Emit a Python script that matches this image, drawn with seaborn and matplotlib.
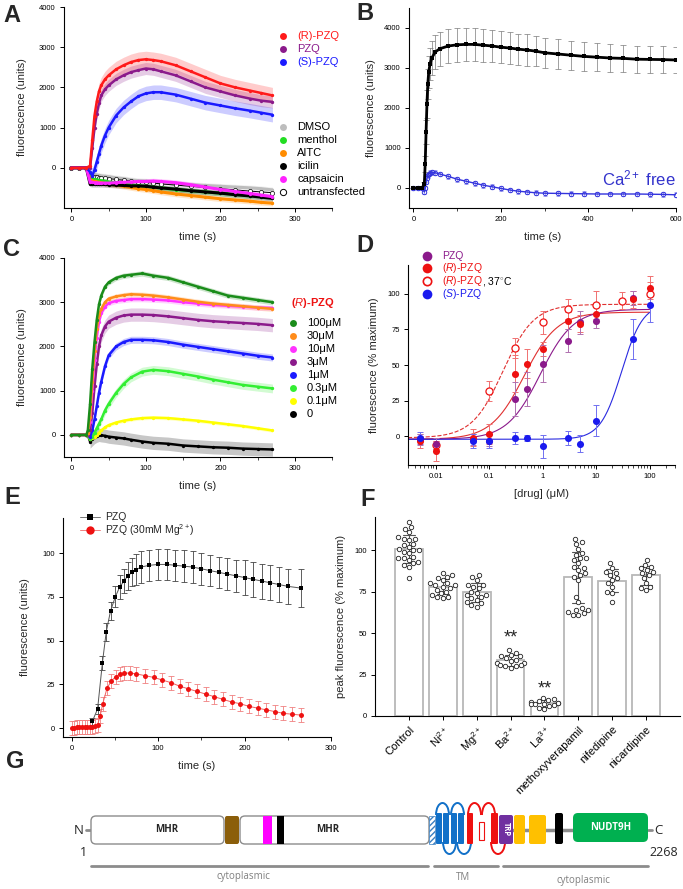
import numpy as np
import pandas as pd
import matplotlib
matplotlib.use("Agg")
import matplotlib.pyplot as plt
import seaborn as sns
from matplotlib.ticker import AutoMinorLocator, LogLocator, NullFormatter
from matplotlib.patches import FancyBboxPatch, Rectangle, Arc

sns.set_style("ticks")
plt.rcParams['font.family'] = ['Liberation Sans', 'DejaVu Sans']
plt.rcParams['mathtext.fontset'] = 'custom'
plt.rcParams['mathtext.rm'] = 'Liberation Sans'
plt.rcParams['mathtext.it'] = 'Liberation Sans:italic'
plt.rcParams['mathtext.bf'] = 'Liberation Sans:bold'

# ---------------- DATA ----------------
# Panel A (time courses, fluorescence units)
a_time = [0, 10, 20, 25, 28, 31, 34, 37, 40, 45, 50, 60, 70, 80, 90, 100, 110, 120, 140, 160, 180, 200, 220, 240, 255, 270]
a_R = [0, 0, 0, 50, 700, 1300, 1650, 1900, 2050, 2200, 2300, 2450, 2550, 2630, 2680, 2700, 2680, 2650, 2550, 2400, 2250, 2100, 2000, 1920, 1860, 1800]
a_PZQ = [0, 0, 0, 0, 500, 1000, 1350, 1600, 1800, 1950, 2050, 2200, 2300, 2380, 2430, 2470, 2450, 2400, 2300, 2150, 2000, 1900, 1800, 1720, 1670, 1640]
a_S = [0, 0, 0, -100, -200, -50, 150, 350, 550, 800, 1000, 1300, 1500, 1650, 1780, 1850, 1880, 1880, 1820, 1720, 1620, 1550, 1480, 1420, 1370, 1320]
a_DMSO = [0, 0, 0, -150, -160, -170, -180, -190, -200, -210, -220, -250, -270, -300, -320, -330, -350, -370, -400, -420, -440, -460, -480, -500, -520, -550]
a_menthol = [0, 0, 0, -250, -270, -290, -300, -310, -320, -330, -350, -380, -400, -430, -450, -460, -480, -500, -540, -570, -600, -630, -660, -690, -710, -730]
a_AITC = [0, 0, 0, -300, -320, -340, -350, -360, -370, -390, -400, -430, -460, -490, -520, -540, -570, -600, -650, -690, -730, -770, -800, -830, -860, -880]
a_icilin = [0, 0, 0, -400, -410, -410, -410, -410, -410, -415, -420, -430, -440, -450, -450, -460, -480, -500, -530, -570, -600, -630, -670, -700, -730, -760]
a_capsaicin = [0, 0, 0, -350, -360, -370, -370, -380, -380, -380, -380, -370, -360, -350, -340, -340, -330, -340, -370, -420, -480, -540, -590, -640, -680, -720]
a_untransfected = [0, 0, 0, -200, -220, -230, -240, -250, -250, -260, -270, -290, -310, -330, -350, -360, -380, -400, -430, -460, -490, -520, -550, -580, -600, -620]
a_err_R, a_err_PZQ, a_err_S, a_err_neg = 200, 150, 180, 70

# Panel B
b_time = [0, 10, 20, 25, 27, 29, 31, 33, 35, 38, 42, 50, 60, 80, 100, 120, 140, 160, 180, 200, 220, 240, 260, 280, 300, 330, 360, 390, 420, 450, 480, 510, 540, 570, 600]
b_ctrl = [0, 0, 0, 100, 600, 1400, 2100, 2600, 2900, 3100, 3250, 3400, 3480, 3550, 3580, 3590, 3590, 3570, 3550, 3520, 3500, 3470, 3450, 3420, 3380, 3350, 3320, 3290, 3270, 3250, 3240, 3220, 3215, 3210, 3200]
b_ctrl_err = [0, 0, 0, 50, 200, 300, 350, 380, 400, 400, 420, 420, 420, 420, 420, 420, 420, 410, 400, 400, 400, 390, 390, 380, 380, 370, 360, 360, 350, 350, 340, 340, 330, 330, 330]
b_cafree = [0, 0, 0, -100, 0, 150, 250, 320, 350, 380, 390, 380, 350, 290, 220, 170, 120, 70, 30, -10, -50, -80, -100, -120, -130, -135, -140, -145, -150, -150, -150, -150, -155, -160, -170]
b_cafree_err = 60

# Panel C
c_time = [0, 10, 20, 22, 25, 28, 31, 34, 37, 40, 45, 50, 60, 70, 80, 95, 110, 130, 150, 170, 190, 210, 230, 250, 270]
c_100 = [0, 0, 0, 100, 700, 1500, 2100, 2600, 2950, 3150, 3350, 3450, 3550, 3600, 3620, 3650, 3600, 3550, 3450, 3350, 3250, 3150, 3100, 3050, 3000]
c_30 = [0, 0, 0, 50, 400, 1200, 1900, 2400, 2700, 2850, 3000, 3080, 3130, 3160, 3180, 3170, 3150, 3110, 3060, 3010, 2970, 2940, 2910, 2880, 2850]
c_10 = [0, 0, 0, 50, 300, 1000, 1700, 2200, 2550, 2750, 2900, 2980, 3030, 3050, 3070, 3070, 3060, 3040, 3000, 2970, 2940, 2920, 2900, 2880, 2870]
c_3 = [0, 0, 0, 0, 100, 500, 1100, 1600, 2000, 2250, 2450, 2560, 2650, 2700, 2720, 2720, 2710, 2680, 2640, 2600, 2570, 2550, 2530, 2510, 2480]
c_1 = [0, 0, 0, 0, -50, 100, 350, 650, 950, 1200, 1550, 1800, 2000, 2100, 2150, 2150, 2140, 2100, 2040, 1990, 1940, 1890, 1840, 1790, 1750]
c_03 = [0, 0, 0, 0, -100, -50, 50, 150, 250, 350, 550, 700, 950, 1150, 1300, 1430, 1470, 1440, 1380, 1320, 1250, 1190, 1130, 1090, 1050]
c_01 = [0, 0, 0, 0, -100, -80, -50, 0, 50, 100, 170, 220, 280, 320, 350, 380, 390, 380, 350, 320, 280, 240, 200, 150, 100]
c_0 = [0, 0, 0, 0, -150, -100, -50, -20, 0, -10, -20, -40, -60, -80, -110, -150, -180, -200, -240, -260, -280, -290, -310, -320, -330]
c_labels = ["100\u03bcM", "30\u03bcM", "10\u03bcM", "3\u03bcM", "1\u03bcM", "0.3\u03bcM", "0.1\u03bcM", "0"]
c_errs = [60, 60, 60, 150, 80, 100, 40, 150]

# Panel D (concentration-response, % maximum)
d_pzq_x = [0.005, 0.01, 0.05, 0.1, 0.3, 0.5, 1, 3, 5, 10, 50]
d_pzq_y = [-2, -5, -2, -3, 26, 33, 51, 67, 80, 81, 97]
d_pzq_e = [4, 4, 4, 4, 12, 12, 13, 8, 8, 5, 5]
d_r_x = [0.005, 0.01, 0.05, 0.1, 0.3, 0.5, 1, 3, 5, 10, 50, 100]
d_r_y = [-3, -10, -1, 2, 44, 51, 61, 81, 79, 86, 96, 104]
d_r_e = [5, 7, 6, 7, 13, 10, 5, 6, 6, 5, 6, 8]
d_r37_x = [0.01, 0.1, 0.3, 1, 3, 10, 30, 100]
d_r37_y = [-6, 32, 62, 80, 89, 92, 95, 100]
d_r37_e = [3, 7, 7, 8, 7, 10, 6, 8]
d_s_x = [0.005, 0.05, 0.1, 0.3, 0.5, 1, 3, 5, 10, 50, 100]
d_s_y = [-1, -3, -3, -1, -1, -7, -1, -5, 11, 68, 92]
d_s_e = [4, 5, 5, 4, 2, 8, 5, 6, 11, 14, 12]
# Hill fit parameters: bottom, top, EC50, slope
d_fit_pzq = [-2, 89, 0.9, 1.4]
d_fit_r = [-2, 87, 0.45, 1.4]
d_fit_r37 = [-1, 92.5, 0.18, 1.5]
d_fit_s = [-2, 93, 30, 2.2]

# Panel E
e_t_pzq = [24, 30, 35.5, 40, 45, 50.5, 55.5, 60.5, 65, 70, 75, 80, 90, 100, 110, 120, 130, 140, 150, 160, 170, 180, 190, 200, 210, 220, 230, 240, 250, 265]
e_pzq = [4, 11, 37, 55, 67, 75, 80.5, 84, 87, 89, 90.5, 92, 93, 93.5, 93.5, 93, 92.5, 92, 91, 90, 89, 88, 87, 86, 85, 84, 83, 82, 81, 80]
e_pzq_err = [2, 3, 4, 5, 5, 6, 7, 7, 8, 8, 9, 9, 9, 9, 9, 9, 9, 9, 9, 9, 9, 9, 9, 10, 10, 10, 10, 10, 10, 11]
e_t_mg = [0, 3, 6, 9, 12, 15, 18, 21, 24, 27, 30, 33, 36, 41, 46, 51, 56, 61, 67, 75, 85, 95, 105, 115, 125, 135, 145, 155, 165, 175, 185, 195, 205, 215, 225, 235, 245, 255, 265]
e_mg = [0, 0, 0.5, 0.5, 0.5, 0.5, 0.5, 0.5, 0.5, 1, 2, 7, 14, 23, 27, 29.5, 31, 31.5, 31.5, 31, 30, 29, 27.5, 26, 24, 22.5, 21, 19.5, 18, 16.5, 15, 14, 12.5, 11.5, 10.5, 9.5, 8.5, 8, 7.5]
e_mg_err = 4

# Panel F (peak fluorescence, % maximum)
f_conditions = ["Control", "Ni$^{2+}$", "Mg$^{2+}$", "Ba$^{2+}$", "La$^{3+}$", "methoxyverapamil", "nifedipine", "nicardipine"]
f_control = [117, 113, 114, 111, 107, 108, 107, 106, 104, 103, 102, 101, 100, 100, 99, 98, 96, 95, 95, 94, 93, 92, 91, 90, 83]
f_ni = [86, 85, 84, 83, 82, 80, 80, 79, 79, 78, 77, 76, 75, 74, 73, 72, 71.5, 71]
f_mg = [85, 84, 82, 79, 79, 78, 77, 75, 74, 73, 73, 72, 71, 70, 69, 68, 67, 66]
f_ba = [40, 38, 37, 36, 36, 35, 34, 33, 32, 32, 31, 31, 30, 30, 29]
f_la = [11, 10, 9.5, 9, 8.5, 8, 8, 7.5, 7, 7, 6.5, 6, 5, 4]
f_methoxy = [107, 105, 104, 101, 98, 97, 95, 95, 94, 92, 90, 89, 88, 86, 85, 84, 82, 72, 69, 65, 64, 64, 63, 62, 61, 61]
f_nifedipine = [92, 89, 87, 86, 85, 83, 82, 80, 78, 75, 74, 69]
f_nicardipine = [94, 91, 90, 89, 88, 87, 86, 85, 83, 80, 78, 77, 76]
f_signif = {"Ba$^{2+}$": 47, "La$^{3+}$": 16}

# ---------------- FIGURE ----------------
W, H = 683, 889
fig = plt.figure(figsize=(W / 100, H / 100), dpi=100)


def add_ax(l, t, r, b):
    return fig.add_axes([l / W, 1 - b / H, (r - l) / W, (b - t) / H])


def style(ax, lab=5.5):
    sns.despine(ax=ax)
    ax.tick_params(direction='out', length=3, width=0.7, labelsize=lab, pad=3, colors='black')
    ax.tick_params(which='minor', length=2, width=0.6)
    for s in ['left', 'bottom']:
        ax.spines[s].set_linewidth(0.8)
        ax.spines[s].set_color('black')


LBL = 8


def trace(ax, t, y, color, err=None, lw=1.8, ms=2.4, alpha=0.22, z=3, band_from=22):
    sns.lineplot(x=t, y=y, ax=ax, color=color, lw=lw, marker='o', markersize=ms,
                 markeredgewidth=0, sort=False, estimator=None, zorder=z)
    if err is not None:
        tt = np.asarray(t, float)
        yy = np.asarray(y, float)
        m = tt >= band_from
        ax.fill_between(tt[m], (yy - err)[m], (yy + err)[m], color=color, alpha=alpha, lw=0, zorder=z - 1)


# ---- A
axA = add_ax(64, 7, 332, 208)
colA = dict(R='#ff1a1a', PZQ='#8b1a8b', S='#1a1aff', DMSO='#bdbdbd', menthol='#22dd22',
            AITC='#ff8c00', icilin='#000000', capsaicin='#ff22ff')
trace(axA, a_time, a_DMSO, colA['DMSO'], a_err_neg, lw=2.2)
sns.lineplot(x=a_time, y=a_untransfected, ax=axA, color='black', lw=0.7, marker='o', markersize=3,
             markerfacecolor='white', markeredgecolor='black', markeredgewidth=0.5, sort=False, zorder=3)
trace(axA, a_time, a_menthol, colA['menthol'], a_err_neg, lw=2.2)
trace(axA, a_time, a_AITC, colA['AITC'], a_err_neg, lw=2.2)
trace(axA, a_time, a_icilin, colA['icilin'], a_err_neg, lw=2.2)
trace(axA, a_time, a_capsaicin, colA['capsaicin'], a_err_neg, lw=2.2)
trace(axA, a_time, a_S, colA['S'], a_err_S)
trace(axA, a_time, a_PZQ, colA['PZQ'], a_err_PZQ)
trace(axA, a_time, a_R, colA['R'], a_err_R)
axA.set_xlim(-10, 350)
axA.set_ylim(-1000, 4000)
axA.set_xticks([0, 100, 200, 300])
axA.xaxis.set_minor_locator(AutoMinorLocator(2))
axA.set_yticks([0, 1000, 2000, 3000, 4000])
style(axA)
axA.set_xlabel('time (s)', fontsize=LBL, labelpad=6)
axA.set_ylabel('fluorescence (units)', fontsize=LBL, labelpad=9)

# ---- B
axB = add_ax(409, 8, 676, 208)
axB.errorbar(b_time, b_cafree, yerr=b_cafree_err, fmt='none', ecolor='#9999ee', elinewidth=0.6, capsize=1.5, capthick=0.6, zorder=2)
sns.lineplot(x=b_time, y=b_cafree, ax=axB, color='#3333dd', lw=1.0, marker='o', markersize=3.2,
             markerfacecolor='none', markeredgecolor='#3333dd', markeredgewidth=0.7, sort=False, zorder=3)
axB.errorbar(b_time, b_ctrl, yerr=b_ctrl_err, fmt='none', ecolor='#7a7a7a', elinewidth=0.5, capsize=2, capthick=0.5, zorder=2)
sns.lineplot(x=b_time, y=b_ctrl, ax=axB, color='black', lw=2.0, marker='s', markersize=2.2,
             markeredgewidth=0, sort=False, zorder=4)
axB.set_xlim(-10, 600)
axB.set_ylim(-500, 4500)
axB.set_xticks([0, 200, 400, 600])
axB.xaxis.set_minor_locator(AutoMinorLocator(2))
axB.set_yticks([0, 1000, 2000, 3000, 4000])
style(axB)
axB.set_xlabel('time (s)', fontsize=LBL, labelpad=6)
axB.set_ylabel('fluorescence (units)', fontsize=LBL, labelpad=6)
axB.text(600, 0, 'Ca$^{2+}$ free', color='#3333cc', fontsize=12, ha='right', va='bottom')

# ---- C
axC = add_ax(64, 258, 332, 457)
c_series = [c_100, c_30, c_10, c_3, c_1, c_03, c_01, c_0]
c_colors = ['#1a8c1a', '#ff8c1a', '#ff33ff', '#8b1a8b', '#1a1aff', '#33ee33', '#ffff00', '#000000']
for vals, col, er in zip(c_series[::-1], c_colors[::-1], c_errs[::-1]):
    trace(axC, c_time, vals, col, er, band_from=25)
axC.set_xlim(-10, 350)
axC.set_ylim(-500, 4000)
axC.set_xticks([0, 100, 200, 300])
axC.xaxis.set_minor_locator(AutoMinorLocator(2))
axC.set_yticks([0, 1000, 2000, 3000, 4000])
style(axC)
axC.set_xlabel('time (s)', fontsize=LBL, labelpad=6)
axC.set_ylabel('fluorescence (units)', fontsize=LBL, labelpad=9)

# ---- D
axD = add_ax(408, 265, 675, 465)
axD.set_xscale('log')


def hill(x, p):
    b, t, ec, n = p
    x = np.asarray(x, float)
    return b + (t - b) / (1 + (ec / x) ** n)


xfit = np.logspace(np.log10(0.003), 2, 300)
d_cols = dict(pzq='#8b1a8b', r='#ee1111', s='#1a1aee')
d_ecol = dict(pzq='#b070b0', r='#f07070', s='#7070f0')
sns.lineplot(x=xfit, y=hill(xfit, d_fit_r37), ax=axD, color='#e03030', lw=0.8, ls='--', zorder=2)
sns.lineplot(x=xfit, y=hill(xfit, d_fit_r), ax=axD, color='#e03030', lw=0.8, zorder=2)
sns.lineplot(x=xfit, y=hill(xfit, d_fit_pzq), ax=axD, color='#8b1a8b', lw=0.8, zorder=2)
sns.lineplot(x=xfit, y=hill(xfit, d_fit_s), ax=axD, color='#2a2ae0', lw=0.8, zorder=2)
for xs, ys, es, c in [(d_r37_x, d_r37_y, d_r37_e, d_ecol['r']), (d_r_x, d_r_y, d_r_e, d_ecol['r']),
                      (d_pzq_x, d_pzq_y, d_pzq_e, d_ecol['pzq']), (d_s_x, d_s_y, d_s_e, d_ecol['s'])]:
    axD.errorbar(xs, ys, yerr=es, fmt='none', ecolor=c, elinewidth=0.7, capsize=2, capthick=0.7, zorder=3)
sns.scatterplot(x=d_r37_x, y=d_r37_y, ax=axD, s=26, facecolor='white', edgecolor='#ee1111', linewidth=0.9, zorder=4)
sns.scatterplot(x=d_pzq_x, y=d_pzq_y, ax=axD, s=26, color=d_cols['pzq'], linewidth=0, zorder=4)
sns.scatterplot(x=d_r_x, y=d_r_y, ax=axD, s=26, color=d_cols['r'], linewidth=0, zorder=4)
sns.scatterplot(x=d_s_x, y=d_s_y, ax=axD, s=26, color=d_cols['s'], linewidth=0, zorder=4)
axD.set_xlim(0.003, 300)
axD.set_ylim(-20, 120)
axD.set_xticks([0.01, 0.1, 1, 10, 100])
axD.set_xticklabels(['0.01', '0.1', '1', '10', '100'])
axD.xaxis.set_minor_locator(LogLocator(base=10, subs=np.arange(2, 10)))
axD.xaxis.set_minor_formatter(NullFormatter())
axD.set_yticks([0, 25, 50, 75, 100])
style(axD)
axD.set_xlabel('[drug] (\u03bcM)', fontsize=LBL, labelpad=6)
axD.set_ylabel('fluorescence (% maximum)', fontsize=LBL, labelpad=6)

# ---- E
axE = add_ax(63, 518, 331, 737)
axE.errorbar(e_t_mg, e_mg, yerr=e_mg_err, fmt='none', ecolor='#f08080', elinewidth=0.6, capsize=2, capthick=0.6, zorder=2)
sns.lineplot(x=e_t_mg, y=e_mg, ax=axE, color='#f06060', lw=0.7, marker='o', markersize=3.6,
             markerfacecolor='#ee1111', markeredgewidth=0, sort=False, zorder=3)
axE.errorbar(e_t_pzq, e_pzq, yerr=e_pzq_err, fmt='none', ecolor='#444444', elinewidth=0.6, capsize=2, capthick=0.6, zorder=2)
sns.lineplot(x=e_t_pzq, y=e_pzq, ax=axE, color='#555555', lw=0.7, marker='s', markersize=3.4,
             markerfacecolor='black', markeredgewidth=0, sort=False, zorder=4)
axE.set_xlim(-10, 300)
axE.set_ylim(-5, 120)
axE.set_xticks([0, 100, 200, 300])
axE.xaxis.set_minor_locator(AutoMinorLocator(2))
axE.set_yticks([0, 25, 50, 75, 100])
style(axE)
axE.set_xlabel('time (s)', fontsize=LBL, labelpad=6)
axE.set_ylabel('fluorescence (units)', fontsize=LBL, labelpad=9)

# ---- F
axF = add_ax(375, 517, 680, 716)
f_values = [f_control, f_ni, f_mg, f_ba, f_la, f_methoxy, f_nifedipine, f_nicardipine]
dfF = pd.DataFrame({'cond': [c for c, v in zip(f_conditions, f_values) for _ in v],
                    'val': [x for v in f_values for x in v]})
sns.barplot(data=dfF, x='cond', y='val', order=f_conditions, estimator='mean', errorbar='sd',
            color='white', edgecolor='#b8b8b8', linewidth=1.3, width=0.82, capsize=0.35,
            err_kws={'color': '#555555', 'linewidth': 0.8}, ax=axF, zorder=2)
sns.swarmplot(data=dfF, x='cond', y='val', order=f_conditions, size=3.2, color='white',
              edgecolor='#222222', linewidth=0.6, ax=axF, zorder=4)
for cond, yv in f_signif.items():
    axF.text(f_conditions.index(cond), yv, '**', ha='center', va='center', fontsize=13)
axF.set_xlim(-1, 8)
axF.set_ylim(0, 120)
axF.set_yticks([0, 25, 50, 75, 100])
style(axF)
axF.tick_params(axis='x', labelsize=8)
axF.set_xticks(range(len(f_conditions)))
axF.set_xticklabels(f_conditions, rotation=45, ha='right', rotation_mode='anchor')
axF.set_xlabel('')
axF.set_ylabel('peak fluorescence (% maximum)', fontsize=LBL, labelpad=6)

# ---------------- OVERLAY (letters, legends, domain map) ----------------
ov = fig.add_axes([0, 0, 1, 1])
ov.set_xlim(0, W)
ov.set_ylim(H, 0)
ov.axis('off')
ov.patch.set_alpha(0)

for lt, (x, y) in zip('ABCDEFG', [(12, 16), (365, 14), (12, 249), (365, 246), (12, 498), (368, 500), (15, 761)]):
    ov.text(x, y, lt, fontsize=17, fontweight='bold', ha='center', va='center')

FS = 8
# A legends
for y, lab, c in [(36, '(R)-PZQ', colA['R']), (49, 'PZQ', colA['PZQ']), (62, '(S)-PZQ', colA['S'])]:
    ov.plot(283, y, 'o', ms=5, color=c, mew=0)
    ov.text(297, y, lab, color=c, fontsize=FS, va='center')
for y, lab, c in [(127, 'DMSO', colA['DMSO']), (140, 'menthol', colA['menthol']), (153, 'AITC', colA['AITC']),
                  (166, 'icilin', colA['icilin']), (179, 'capsaicin', colA['capsaicin'])]:
    ov.plot(283, y, 'o', ms=5, color=c, mew=0)
    ov.text(297, y, lab, color='black', fontsize=FS, va='center')
ov.plot(283, 192, 'o', ms=4.5, mfc='white', mec='black', mew=0.7)
ov.text(297, 192, 'untransfected', color='black', fontsize=FS, va='center')

# C legend
ov.text(313, 303, '($\\mathbf{\\mathit{R}}$)-PZQ', color='#ee1111', fontsize=FS, fontweight='bold', ha='center', va='center')
for i, (lab, c) in enumerate(zip(c_labels, c_colors)):
    y = 323 + 13 * i
    ov.plot(293, y, 'o', ms=5, color=c, mew=0)
    ov.text(307, y, lab, color='black', fontsize=FS, va='center')

# D legend
ov.plot(427, 256, 'o', ms=7, color=d_cols['pzq'], mew=0)
ov.text(442, 256, 'PZQ', color=d_cols['pzq'], fontsize=FS - 0.5, va='center')
ov.plot(427, 268, 'o', ms=7, color=d_cols['r'], mew=0)
ov.text(442, 268, '($\\mathit{R}$)-PZQ', color=d_cols['r'], fontsize=FS - 0.5, va='center')
ov.plot(427, 281, 'o', ms=6, mfc='white', mec=d_cols['r'], mew=1.2)
ov.text(442, 281, '($\\mathit{R}$)-PZQ', color=d_cols['r'], fontsize=FS - 0.5, va='center')
ov.text(481.5, 281, ', 37$^{\\circ}$C', color='black', fontsize=FS - 0.5, va='center')
ov.plot(427, 294, 'o', ms=7, color=d_cols['s'], mew=0)
ov.text(442, 294, '($\\mathit{S}$)-PZQ', color=d_cols['s'], fontsize=FS - 0.5, va='center')

# E legend
ov.plot([80, 100], [517, 517], color='#777777', lw=0.7)
ov.plot(90, 517, 's', ms=5, color='black', mew=0)
ov.text(105, 517, 'PZQ', fontsize=FS - 0.5, va='center')
ov.plot([80, 100], [530, 530], color='#f08080', lw=0.7)
ov.plot(90, 530, 'o', ms=6, color='#ee1111', mew=0)
ov.text(105, 530, 'PZQ (30mM Mg$^{2+}$)', fontsize=FS - 0.5, va='center')

# G domain map
gray = '#8c8c8c'
ov.plot([86, 91], [830, 830], color=gray, lw=2, zorder=1)
ov.plot([513, 573], [830, 830], color=gray, lw=2.5, zorder=1)
ov.plot([648, 652], [830, 830], color=gray, lw=2, zorder=1)


def rbox(x, y, w, h, fc, ec='none', r=3, lw=1.0, hatch=None, z=2):
    ov.add_patch(FancyBboxPatch((x, y), w, h, boxstyle=f'round,pad=0,rounding_size={r}', fc=fc, ec=ec, lw=lw, hatch=hatch, zorder=z))


rbox(91, 816, 133, 28, 'white', '#8c8c8c', r=5)
rbox(225, 816, 14, 28, '#8b5e0a', r=2)
rbox(240, 816, 189, 28, 'white', '#8c8c8c', r=5)
ov.add_patch(Rectangle((263, 816), 9, 28, fc='#ff00ff', ec='none', zorder=3))
ov.add_patch(Rectangle((277, 816), 7, 28, fc='black', ec='none', zorder=3))
ov.add_patch(Rectangle((429, 816), 6, 28, fc='white', ec='#3a7fc1', lw=0.5, hatch='//////', zorder=3))
blue, red = '#1170c8', '#ee1111'
for x0 in [436, 443, 451, 458]:
    rbox(x0, 813, 6, 31, blue, r=1, z=3)
rbox(467, 813, 6, 31, red, r=1, z=3)
ov.add_patch(Rectangle((479, 822), 5, 18, fc='white', ec=red, lw=0.8, zorder=3))
rbox(491, 813, 7, 31, red, r=1, z=3)
for cx, w, col, top in [(442.5, 13, blue, True), (457.5, 13, blue, True), (474.5, 13, red, True), (488.5, 13, red, True),
                        (449.5, 13, blue, False), (464.0, 14, blue, False), (498.0, 14, red, False)]:
    if top:
        ov.add_patch(Arc((cx, 815), w, 24, theta1=180, theta2=360, color=col, lw=1.4, zorder=2))
    else:
        ov.add_patch(Arc((cx, 842), w, 24, theta1=0, theta2=180, color=col, lw=1.4, zorder=2))
rbox(499, 815, 14, 29, '#7030a0', r=2, z=4)
ov.text(506, 829.5, 'TRP', rotation=-90, color='white', fontsize=5.5, fontweight='bold', ha='center', va='center', family=['Open Sans', 'DejaVu Sans'], zorder=5)
rbox(514, 815, 11, 29, '#ffc000', r=2, z=3)
rbox(529, 815, 17, 29, '#ffc000', r=2, z=3)
rbox(555, 813, 8, 31, 'black', r=2, z=3)
rbox(573, 813, 75, 29, '#00b050', r=5, z=3)
gfont = ['Open Sans', 'DejaVu Sans']
ov.text(610.5, 828, 'NUDT9H', color='white', fontsize=7, fontweight='bold', ha='center', va='center', family=gfont, zorder=5)
ov.text(167, 829, 'MHR', fontsize=7, fontweight='bold', ha='center', va='center', family=gfont, zorder=5)
ov.text(328, 829, 'MHR', fontsize=7, fontweight='bold', ha='center', va='center', family=gfont, zorder=5)
ov.text(79, 830, 'N', fontsize=9.5, ha='center', va='center', family=gfont)
ov.text(658, 830, 'C', fontsize=9.5, ha='center', va='center', family=gfont)
ov.text(83, 853, '1', fontsize=9, ha='center', va='center', family=gfont)
ov.text(664, 852, '2268', fontsize=9, ha='center', va='center', family=gfont)
for x0, x1 in [(91, 428), (434, 498), (503, 648)]:
    ov.plot([x0, x1], [866, 866], color=gray, lw=2)
ov.text(243, 877, 'cytoplasmic', fontsize=7, color='#808080', ha='center', va='center', family=gfont)
ov.text(463, 878, 'TM', fontsize=7, color='#808080', ha='center', va='center', family=gfont)
ov.text(583, 880, 'cytoplasmic', fontsize=7, color='#808080', ha='center', va='center', family=gfont)

fig.savefig('out.png', dpi=100)
